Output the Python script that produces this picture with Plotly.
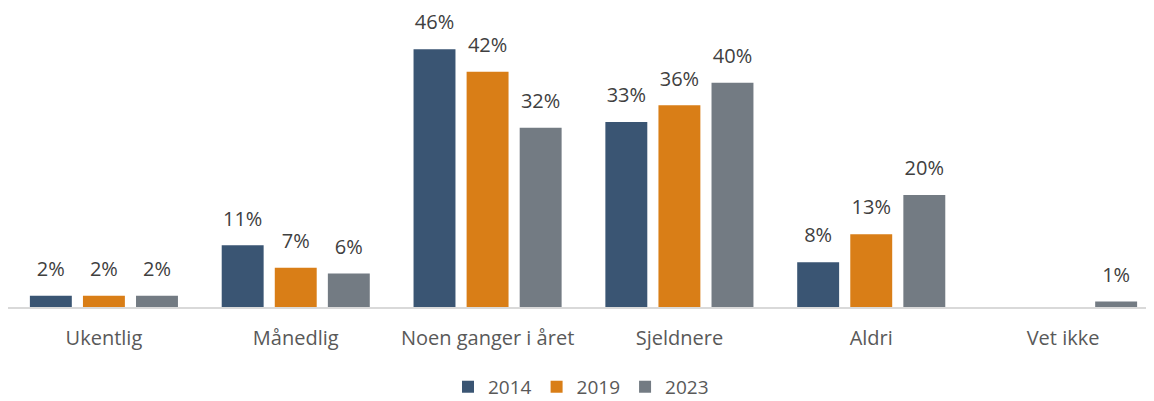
import plotly.graph_objects as go

# Kategorier og verdier (prosent)
kategorier = ["Ukentlig", "Månedlig", "Noen ganger i året", "Sjeldnere", "Aldri", "Vet ikke"]
verdier_2014 = [2, 11, 46, 33, 8, None]
verdier_2019 = [2, 7, 42, 36, 13, None]
verdier_2023 = [2, 6, 32, 40, 20, 1]

serier = [
    ("2014", verdier_2014, "#3A5573"),
    ("2019", verdier_2019, "#D97E17"),
    ("2023", verdier_2023, "#737B83"),
]

fig = go.Figure()
for navn, verdier, farge in serier:
    fig.add_trace(go.Bar(
        name=navn, x=kategorier, y=verdier, offsetgroup=navn,
        marker=dict(color=farge, line=dict(width=0)),
    ))
    # Dataetiketter litt over stolpene
    fig.add_trace(go.Scatter(
        x=kategorier, y=verdier, offsetgroup=navn, mode="markers+text",
        text=[f"{v}%" if v is not None else "" for v in verdier],
        textposition="top center", cliponaxis=False,
        marker=dict(size=22, opacity=0), showlegend=False, hoverinfo="skip",
        textfont=dict(size=20, color="#404040"),
    ))

# Siden har 8px body-marg, så figuren gjøres litt mindre enn vinduet
fig.update_layout(
    width=1146, height=393,
    margin=dict(l=0, r=0, t=2, b=94, autoexpand=False),
    paper_bgcolor="white", plot_bgcolor="white",
    barmode="group", bargap=0.17, bargroupgap=0.21,
    scattermode="group", scattergap=0.17,
    font=dict(family="Open Sans", size=20, color="#595959"),
    showlegend=True,
    legend=dict(orientation="h", x=0.5, xanchor="center", y=-0.205, yanchor="top",
                font=dict(size=19, color="#595959"), itemwidth=30),
    xaxis=dict(showline=True, linecolor="#D9D9D9", linewidth=2, ticks="",
               range=[-0.5, 5.474], ticklabelstandoff=12, automargin=False,
               tickfont=dict(size=20, color="#595959")),
    yaxis=dict(visible=False, range=[0, 53]),
)

fig.write_html("out.html")
